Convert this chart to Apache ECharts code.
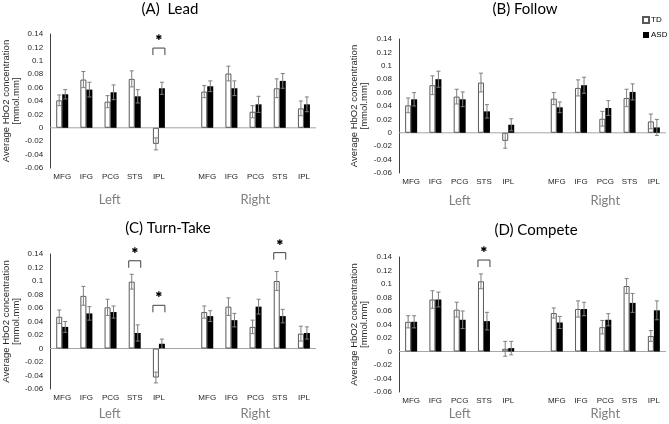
<!DOCTYPE html>
<html><head><meta charset="utf-8">
<script src="https://cdn.jsdelivr.net/npm/echarts@6/dist/echarts.min.js"></script>
<style>html,body{margin:0;padding:0;background:#fff}#c{width:669px;height:424px}</style>
</head><body><div id="c"></div>
<script>
const regions = ['MFG', 'IFG', 'PCG', 'STS', 'IPL'];
const categories = regions.map(r => 'Left ' + r).concat(['gap']).concat(regions.map(r => 'Right ' + r));
const yTicks = { min: -0.06, max: 0.14, interval: 0.02 };

// (A) Lead
const leadTD     = [0.041, 0.072, 0.039, 0.073, -0.024, null, 0.054, 0.081, 0.024, 0.059, 0.029];
const leadTDErr  = [0.008, 0.012, 0.009, 0.012, 0.009, null, 0.009, 0.011, 0.009, 0.014, 0.011];
const leadASD    = [0.050, 0.057, 0.053, 0.047, 0.059, null, 0.062, 0.059, 0.035, 0.070, 0.035];
const leadASDErr = [0.007, 0.011, 0.011, 0.010, 0.009, null, 0.008, 0.011, 0.012, 0.011, 0.011];
const leadSig    = [[4, 0.119]];

// (B) Follow
const followTD     = [0.041, 0.071, 0.054, 0.075, -0.012, null, 0.051, 0.067, 0.021, 0.052, 0.017];
const followTDErr  = [0.011, 0.014, 0.011, 0.014, 0.011, null, 0.009, 0.012, 0.011, 0.013, 0.011];
const followASD    = [0.050, 0.080, 0.050, 0.032, 0.012, null, 0.038, 0.071, 0.037, 0.061, 0.008];
const followASDErr = [0.010, 0.012, 0.011, 0.010, 0.009, null, 0.008, 0.012, 0.011, 0.012, 0.012];
const followSig    = [];

// (C) Turn-Take
const turnTD     = [0.047, 0.078, 0.061, 0.099, -0.043, null, 0.054, 0.062, 0.032, 0.100, 0.022];
const turnTDErr  = [0.010, 0.014, 0.012, 0.011, 0.008, null, 0.009, 0.013, 0.010, 0.014, 0.011];
const turnASD    = [0.032, 0.052, 0.054, 0.023, 0.007, null, 0.048, 0.042, 0.062, 0.048, 0.023];
const turnASDErr = [0.008, 0.010, 0.009, 0.012, 0.007, null, 0.008, 0.010, 0.011, 0.010, 0.009];
const turnSig    = [[3, 0.130], [4, 0.064], [9, 0.142]];

// (D) Compete
const competeTD     = [0.044, 0.077, 0.062, 0.104, 0.004, null, 0.057, 0.063, 0.036, 0.097, 0.023];
const competeTDErr  = [0.009, 0.013, 0.011, 0.011, 0.011, null, 0.0075, 0.012, 0.010, 0.011, 0.008];
const competeASD    = [0.044, 0.077, 0.047, 0.045, 0.005, null, 0.043, 0.063, 0.047, 0.072, 0.061];
const competeASDErr = [0.009, 0.011, 0.013, 0.013, 0.010, null, 0.009, 0.010, 0.009, 0.014, 0.014];
const competeSig    = [[3, 0.1355]];

const panelTitles = ['(A)  Lead', '(B) Follow', '(C) Turn-Take', '(D) Compete'];
const sideLabels = ['Left', 'Right'];

const panels = [
  { td: leadTD, tdErr: leadTDErr, asd: leadASD, asdErr: leadASDErr, sig: leadSig,
    grid: { left: 49, top: 34, width: 267, height: 134 }, title: [170, 2], side: 200 },
  { td: followTD, tdErr: followTDErr, asd: followASD, asdErr: followASDErr, sig: followSig,
    grid: { left: 399, top: 39, width: 267, height: 134 }, title: [525, 2], side: 201 },
  { td: turnTD, tdErr: turnTDErr, asd: turnASD, asdErr: turnASDErr, sig: turnSig,
    grid: { left: 49, top: 254, width: 267, height: 135 }, title: [168, 221], side: 414 },
  { td: competeTD, tdErr: competeTDErr, asd: competeASD, asdErr: competeASDErr, sig: competeSig,
    grid: { left: 399, top: 257, width: 267, height: 135 }, title: [536, 223], side: 414 }
];

const BAR_W = 6;
function errRender(offset) {
  return function (params, api) {
    const i = api.value(0), v = api.value(1), e = api.value(2);
    if (isNaN(v)) return;
    const t = api.coord([i, v + e]);
    const b = api.coord([i, v - e]);
    const x = t[0] + offset;
    const st = { stroke: '#7f7f7f', lineWidth: 1 };
    const cap = 2;
    return { type: 'group', children: [
      { type: 'line', shape: { x1: x, y1: t[1], x2: x, y2: b[1] }, style: st },
      { type: 'line', shape: { x1: x - cap, y1: t[1], x2: x + cap, y2: t[1] }, style: st },
      { type: 'line', shape: { x1: x - cap, y1: b[1], x2: x + cap, y2: b[1] }, style: st }
    ]};
  };
}
function sigRender(params, api) {
  const p = api.coord([api.value(0), api.value(1)]);
  const x = p[0], y = p[1];
  return { type: 'group', children: [
    { type: 'polyline', shape: { points: [[x - 6, y + 7], [x - 6, y], [x + 6, y], [x + 6, y + 7]] },
      style: { stroke: '#404040', lineWidth: 1, fill: null } },
    { type: 'text', style: { text: '✱', x: x, y: y - 10, align: 'center', verticalAlign: 'middle',
      font: 'bold 8px "DejaVu Sans"', fill: '#000' } }
  ]};
}
function zeroRender(params, api) {
  const cs = params.coordSys;
  const y = api.coord([0, 0])[1];
  return { type: 'line', shape: { x1: cs.x, y1: y, x2: cs.x + cs.width, y2: y },
    style: { stroke: '#a6a6a6', lineWidth: 1 } };
}

const option = {
  animation: false,
  backgroundColor: '#fff',
  title: panels.map((p, k) => ({
    text: panelTitles[k], left: p.title[0], top: p.title[1], textAlign: 'center', padding: 0,
    textStyle: { fontFamily: 'Lato', fontSize: 15, fontWeight: 'normal', color: '#000' }
  })),
  legend: {
    data: ['TD', 'ASD'], orient: 'vertical', left: 642, top: 16, itemWidth: 6, itemHeight: 6,
    itemGap: 7, padding: 0, icon: 'rect',
    textStyle: { fontFamily: 'Liberation Sans', fontSize: 8, color: '#000', padding: [0, 0, 0, -3] }
  },
  grid: panels.map(p => Object.assign({ containLabel: false }, p.grid)),
  xAxis: panels.map((p, k) => ({
    type: 'category', gridIndex: k, data: categories,
    axisLine: { show: false }, axisTick: { show: false },
    axisLabel: { interval: 0, margin: 5, fontFamily: 'Liberation Sans', fontSize: 8, color: '#262626',
      formatter: v => v === 'gap' ? '' : v.split(' ')[1] }
  })),
  yAxis: panels.map((p, k) => ({
    type: 'value', gridIndex: k, min: yTicks.min, max: yTicks.max, interval: yTicks.interval,
    axisLine: { show: true, lineStyle: { color: '#404040', width: 1 } },
    axisTick: { show: false }, splitLine: { show: false },
    axisLabel: { margin: 7, fontFamily: 'Liberation Sans', fontSize: 8, color: '#262626' },
    name: 'Average HbO2 concentration\n[mmol.mm]', nameLocation: 'middle', nameRotate: 90, nameGap: 19,
    nameTextStyle: { fontFamily: 'Liberation Sans', fontSize: 9.5, lineHeight: 10, color: '#262626' }
  })),
  graphic: panels.flatMap(p => sideLabels.map((s, j) => ({
    type: 'text', x: p.grid.left + p.grid.width * (j === 0 ? 2.5 : 8.5) / 11, y: p.side,
    style: { text: s, align: 'center', verticalAlign: 'middle', font: '13px Lato', fill: '#7f7f7f' }
  }))),
  series: panels.flatMap((p, k) => [
    { name: 'zero', type: 'custom', xAxisIndex: k, yAxisIndex: k, z: 1, data: [[0, 0]], renderItem: zeroRender },
    { name: 'TD', type: 'bar', xAxisIndex: k, yAxisIndex: k, data: p.td, barWidth: BAR_W, barGap: '0%', z: 2,
      itemStyle: { color: '#fff', borderColor: '#595959', borderWidth: 1 } },
    { name: 'ASD', type: 'bar', xAxisIndex: k, yAxisIndex: k, data: p.asd, barWidth: BAR_W, barGap: '0%', z: 2,
      itemStyle: { color: '#000', borderColor: '#000', borderWidth: 0 } },
    { name: 'errTD', type: 'custom', xAxisIndex: k, yAxisIndex: k, z: 5,
      data: p.td.map((v, i) => [i, v == null ? NaN : v, p.tdErr[i] == null ? 0 : p.tdErr[i]]),
      renderItem: errRender(-BAR_W / 2) },
    { name: 'errASD', type: 'custom', xAxisIndex: k, yAxisIndex: k, z: 5,
      data: p.asd.map((v, i) => [i, v == null ? NaN : v, p.asdErr[i] == null ? 0 : p.asdErr[i]]),
      renderItem: errRender(BAR_W / 2) },
    { name: 'sig', type: 'custom', xAxisIndex: k, yAxisIndex: k, z: 5, clip: false,
      data: p.sig, renderItem: sigRender }
  ])
};
const chart = echarts.init(document.getElementById('c'), null, { renderer: 'canvas' });
chart.setOption(option);
</script></body></html>
